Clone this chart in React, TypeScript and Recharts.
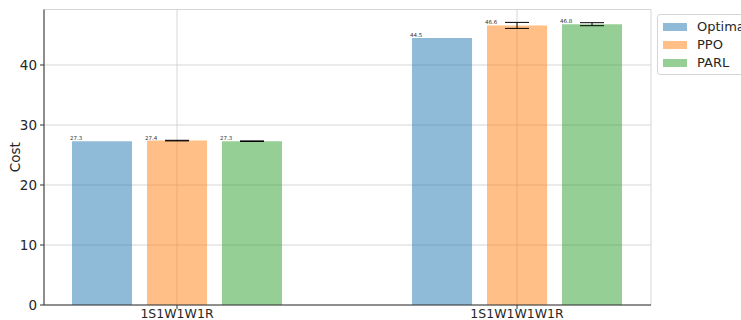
import { BarChart, Bar, XAxis, YAxis, CartesianGrid, ErrorBar, LabelList } from 'recharts';

const categories = ['1S1W1W1R', '1S1W1W1W1R'];
const optimalCost = [27.3, 44.5];
const ppoCost = [27.4, 46.6];
const parlCost = [27.3, 46.8];
const ppoErr = [0.05, 0.5];
const parlErr = [0.05, 0.25];
const yTicks = [0, 10, 20, 30, 40];

const SERIES = [
    { key: 'optimal', name: 'Optimal', color: '#1f77b4' },
    { key: 'ppo', name: 'PPO', color: '#ff7f0e' },
    { key: 'parl', name: 'PARL', color: '#2ca02c' },
];

const data = categories.map((c, i) => ({
    x: i,
    name: c,
    optimal: optimalCost[i],
    ppo: ppoCost[i],
    parl: parlCost[i],
    ppoErr: ppoErr[i],
    parlErr: parlErr[i],
}));

const FONT = '"DejaVu Sans", sans-serif';
const AXIS = '#333333';

const barLabel = (props: any) => {
    const { x, y, value } = props;
    return (
        <text x={x - 2} y={y - 1} fontSize={5.5} fill="#333" fontFamily={FONT} textAnchor="start">
            {value}
        </text>
    );
};

const costLabel = (props: any) => {
    const vb = props.viewBox || { x: 0, y: 0, width: 44, height: 295 };
    const cx = 15;
    const cy = vb.y + vb.height / 2;
    return (
        <text x={cx} y={cy} transform={`rotate(-90, ${cx}, ${cy})`} textAnchor="middle" dominantBaseline="central"
            fontSize={13.5} fill="#262626" fontFamily={FONT}>
            Cost
        </text>
    );
};

const xTick = (props: any) => {
    const { x, y, payload } = props;
    return (
        <text x={x} y={y + 4} textAnchor="middle" dominantBaseline="central" fontSize={12.5} fill="#262626" fontFamily={FONT}>
            {categories[payload.value] ?? ''}
        </text>
    );
};

export default function App() {
    return (
        <div style={{ position: 'absolute', left: 0, top: 0, width: 741, height: 320, overflow: 'hidden', background: '#fff', fontFamily: FONT }}>
            <BarChart width={741} height={320} data={data} barSize={60} barGap={15}
                margin={{ top: 9.5, right: 90, bottom: 0, left: 0 }}>
                <CartesianGrid stroke="#cccccc" strokeWidth={0.8} />
                <XAxis dataKey="x" type="number" domain={[-0.3912, 1.394]} allowDataOverflow ticks={[0, 1]}
                    height={15} tickSize={4} tickMargin={0} interval={0} tick={xTick}
                    stroke={AXIS} axisLine={{ stroke: AXIS }} tickLine={{ stroke: AXIS }} />
                <XAxis xAxisId="top" orientation="top" dataKey="x" type="number" domain={[-0.3912, 1.394]} allowDataOverflow
                    height={0} tick={false} tickLine={false} axisLine={{ stroke: AXIS }} />
                <YAxis domain={[0, 49.25]} allowDataOverflow ticks={yTicks} width={44} tickSize={4} tickMargin={3}
                    tick={{ fill: '#262626', fontSize: 13.5, fontFamily: FONT }}
                    axisLine={{ stroke: AXIS }} tickLine={{ stroke: AXIS }} label={costLabel} />
                <YAxis yAxisId="right" orientation="right" domain={[0, 49.25]} width={0} tick={false} tickLine={false}
                    axisLine={{ stroke: AXIS }} />
                <Bar dataKey="optimal" name="Optimal" fill={SERIES[0].color} fillOpacity={0.5} isAnimationActive={false}>
                    <LabelList dataKey="optimal" content={barLabel} />
                </Bar>
                <Bar dataKey="ppo" name="PPO" fill={SERIES[1].color} fillOpacity={0.5} isAnimationActive={false}>
                    <ErrorBar dataKey="ppoErr" width={12} stroke="#000" strokeWidth={1} direction="y" />
                    <LabelList dataKey="ppo" content={barLabel} />
                </Bar>
                <Bar dataKey="parl" name="PARL" fill={SERIES[2].color} fillOpacity={0.5} isAnimationActive={false}>
                    <ErrorBar dataKey="parlErr" width={12} stroke="#000" strokeWidth={1} direction="y" />
                    <LabelList dataKey="parl" content={barLabel} />
                </Bar>
            </BarChart>
            <div style={{
                position: 'absolute', left: 657, top: 14, width: 100, height: 59,
                border: '1px solid #d6d6d6', borderRadius: 3, background: '#fff', boxSizing: 'content-box',
            }}>
                {SERIES.map((s, i) => (
                    <div key={s.key} style={{ position: 'absolute', left: 5, top: 5 + i * 18, height: 14, display: 'flex', alignItems: 'center' }}>
                        <span style={{ display: 'inline-block', width: 24, height: 8, background: s.color, opacity: 0.5 }} />
                        <span style={{ marginLeft: 10, fontSize: 13, color: '#262626', lineHeight: '14px', whiteSpace: 'nowrap' }}>{s.name}</span>
                    </div>
                ))}
            </div>
        </div>
    );
}
